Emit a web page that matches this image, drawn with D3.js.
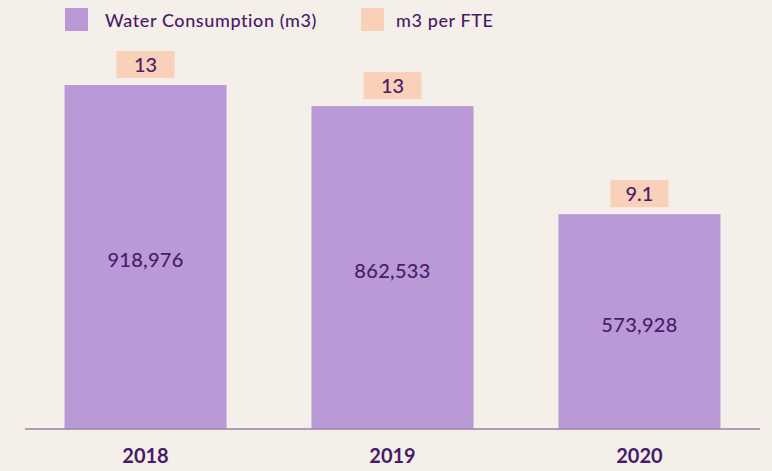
<!DOCTYPE html>
<html>
<head>
<meta charset="utf-8">
<script src="https://cdn.jsdelivr.net/npm/d3@7"></script>
<style>
  body { margin: 0; background: #f4efe8; }
  svg { display: block; font-family: Lato, "Noto Sans", sans-serif; }
</style>
</head>
<body>
<div id="wrapper"></div>
<script>
const years = ["2018", "2019", "2020"]
const water = [918976, 862533, 573928]
const perFte = ["13", "13", "9.1"]
const legendLabels = ["Water Consumption (m3)", "m3 per FTE"]

const textColor = "#4a1a6b"
const barColor = "#b99ad6"
const fteColor = "#f8d1b8"

let dimensions = {
  width: 772,
  height: 471,
  baseline: 429,
  top: 85
}

const wrapper = d3.select("#wrapper")
  .append("svg")
  .attr("width", dimensions.width)
  .attr("height", dimensions.height)

wrapper.append("rect")
  .attr("width", dimensions.width)
  .attr("height", dimensions.height)
  .attr("fill", "#f4efe8")

const xScale = d3.scaleBand()
  .domain(years)
  .range([25, 760])
  .paddingInner(0.344)
  .paddingOuter(0.16)

const yScale = d3.scaleLinear()
  .domain([0, d3.max(water)])
  .range([dimensions.baseline, dimensions.top])

const data = years.map((y, i) => ({ year: y, value: water[i], fte: perFte[i] }))

// bars
wrapper.selectAll(".bar")
  .data(data)
  .enter()
  .append("rect")
  .attr("class", "bar")
  .attr("x", d => xScale(d.year))
  .attr("y", d => yScale(d.value))
  .attr("width", xScale.bandwidth())
  .attr("height", d => dimensions.baseline - yScale(d.value))
  .attr("fill", barColor)

// value labels in the middle of the bars
wrapper.selectAll(".val")
  .data(data)
  .enter()
  .append("text")
  .attr("x", d => xScale(d.year) + xScale.bandwidth() / 2)
  .attr("y", d => (yScale(d.value) + dimensions.baseline) / 2 + 10)
  .attr("text-anchor", "middle")
  .attr("font-size", 20)
  .attr("font-weight", 500)
  .attr("letter-spacing", 0.3)
  .attr("fill", textColor)
  .text(d => d3.format(",")(d.value))

// per FTE boxes
const boxW = 58, boxH = 27
const fte = wrapper.selectAll(".fte")
  .data(data)
  .enter()
  .append("g")
  .attr("transform", d => `translate(${xScale(d.year) + xScale.bandwidth() / 2}, ${yScale(d.value) - 7 - boxH})`)

fte.append("rect")
  .attr("x", -boxW / 2)
  .attr("width", boxW)
  .attr("height", boxH)
  .attr("fill", fteColor)

fte.append("text")
  .attr("y", 21)
  .attr("text-anchor", "middle")
  .attr("font-size", 20)
  .attr("font-weight", 500)
  .attr("fill", textColor)
  .text(d => d.fte)

// axis
const xAxis = d3.axisBottom(xScale).tickSize(0).tickPadding(20)
const axisG = wrapper.append("g")
  .attr("transform", `translate(0, ${dimensions.baseline})`)
  .call(xAxis)
axisG.select(".domain").remove()
axisG.append("line")
  .attr("x1", 25)
  .attr("x2", 760)
  .attr("stroke", "#9b7fa8")
  .attr("stroke-width", 1.5)
axisG.selectAll(".tick text")
  .attr("font-family", "Lato, 'Noto Sans', sans-serif")
  .attr("font-size", 20)
  .attr("font-weight", 700)
  .attr("fill", textColor)

// legend
const legendX = [65, 361]
const legend = wrapper.selectAll(".legend")
  .data(legendLabels)
  .enter()
  .append("g")
  .attr("transform", (d, i) => `translate(${legendX[i]}, 8)`)

legend.append("rect")
  .attr("width", 23)
  .attr("height", 23)
  .attr("fill", (d, i) => i == 0 ? barColor : fteColor)

legend.append("text")
  .attr("x", (d, i) => i == 0 ? 40 : 35)
  .attr("y", 19)
  .attr("font-size", 18)
  .attr("font-weight", 500)
  .attr("letter-spacing", 0.6)
  .attr("fill", textColor)
  .text(d => d)
</script>
</body>
</html>
